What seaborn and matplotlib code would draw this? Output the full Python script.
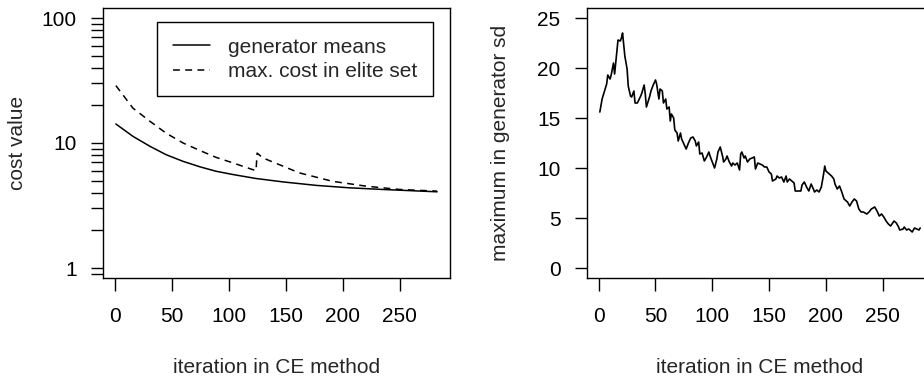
import numpy as np
import pandas as pd
import matplotlib
matplotlib.use("Agg")
import matplotlib.pyplot as plt
import seaborn as sns

# left panel: cost per iteration
mean_iter = [1, 16, 31, 45, 60, 75, 89, 104, 124, 148, 177, 206, 235, 283]
mean_cost = [14.2, 11.3, 9.4, 8.07, 7.13, 6.44, 5.94, 5.59, 5.2, 4.88, 4.58, 4.38, 4.25, 4.07]

elite_iter = [1, 16, 31, 45, 60, 75, 89, 104, 124, 125, 130, 162, 191, 221, 250, 283]
elite_cost = [28.8, 19.0, 14.9, 12.0, 10.0, 8.69, 7.67, 6.92, 6.0, 8.3, 7.6, 5.77, 4.94, 4.51, 4.25, 4.12]

# right panel: maximum generator sd
sd_iter = [1, 3, 7, 8, 10, 11, 13, 14, 16, 17, 19, 20, 21, 23, 25, 26, 28, 29, 31, 32,
           34, 37, 38, 40, 41, 42, 45, 46, 48, 50, 51, 53, 54, 56, 57, 59, 60, 62, 63, 64,
           66, 67, 69, 70, 72, 73, 75, 77, 79, 81, 83, 85, 86, 88, 89, 91, 93, 95, 97, 98,
           100, 102, 104, 105, 107, 109, 110, 112, 113, 115, 117, 118, 120, 122, 124, 125, 126, 128, 129, 131,
           133, 135, 137, 138, 140, 142, 144, 146, 148, 150, 152, 153, 156, 157, 159, 161, 163, 165, 166, 168,
           170, 172, 173, 176, 178, 179, 181, 183, 185, 187, 189, 190, 192, 194, 196, 198, 199, 200, 203, 205,
           207, 208, 210, 212, 214, 216, 219, 221, 223, 225, 227, 229, 231, 233, 236, 238, 240, 243, 245, 247,
           249, 251, 253, 255, 257, 260, 262, 264, 265, 268, 269, 271, 273, 276, 278, 280, 282, 283]
sd_max = [15.6, 16.9, 18.4, 19.3, 18.9, 19.3, 20.5, 19.4, 21.6, 22.8, 22.7, 23.0, 23.5, 21.2, 19.9, 18.2, 17.2, 17.1, 17.7, 16.5,
          16.5, 17.2, 17.5, 18.3, 17.4, 16.1, 17.2, 17.7, 18.3, 18.8, 18.4, 16.9, 17.9, 17.7, 16.5, 16.9, 15.9, 16.1, 14.7, 15.4,
          15.0, 13.8, 13.5, 12.7, 13.5, 12.9, 12.4, 11.9, 12.5, 13.0, 13.1, 12.7, 12.2, 12.6, 11.4, 11.5, 10.7, 11.1, 11.6, 11.2,
          10.6, 10.0, 10.9, 11.6, 12.1, 11.2, 10.6, 10.9, 11.2, 10.6, 10.2, 10.5, 10.3, 10.5, 9.8, 11.4, 11.6, 11.0, 11.2, 10.6,
          10.9, 11.0, 11.1, 9.9, 10.5, 10.4, 10.3, 10.1, 10.1, 9.6, 9.4, 8.7, 8.9, 9.2, 9.0, 9.1, 8.6, 9.2, 8.6, 8.9,
          8.7, 8.5, 7.7, 7.7, 7.7, 8.3, 8.6, 8.1, 7.7, 8.4, 7.9, 7.6, 7.8, 7.6, 8.1, 9.4, 10.2, 9.7, 9.4, 9.2,
          8.9, 8.4, 7.9, 8.2, 7.6, 6.9, 6.6, 6.2, 6.6, 6.9, 6.7, 5.9, 5.6, 5.6, 5.4, 5.6, 5.9, 6.1, 5.7, 5.2,
          5.4, 5.1, 4.7, 4.4, 4.2, 4.7, 4.5, 4.1, 3.8, 3.9, 4.1, 3.8, 3.9, 3.6, 4.0, 3.9, 3.8, 4.0]

x_ticks = [0, 50, 100, 150, 200, 250]
cost_ticks = [1, 10, 100]
cost_minor = [0.9, 2, 3, 4, 5, 6, 7, 8, 9, 20, 30, 40, 50, 60, 70, 80, 90]
sd_ticks = [0, 5, 10, 15, 20, 25]

sns.set_theme(style="ticks")
plt.rcParams["font.family"] = ["Liberation Sans", "DejaVu Sans"]
fs = 15

fig = plt.figure(figsize=(9.24, 3.78), dpi=100)
ax1 = fig.add_axes([103 / 924, 100 / 378, 347 / 924, 270 / 378])
ax2 = fig.add_axes([587 / 924, 100 / 378, 346 / 924, 270 / 378])

# left panel
sns.lineplot(x=mean_iter, y=mean_cost, ax=ax1, color="black", linewidth=1.1,
             label="generator means")
sns.lineplot(x=elite_iter, y=elite_cost, ax=ax1, color="black", linewidth=1.1,
             linestyle="--", label="max. cost in elite set")
ax1.lines[1].set_dashes([4.5, 3.5])
ax1.set_yscale("log")
ax1.set_xlim(-10.3, 294.3)
ax1.set_ylim(10 ** -0.08, 10 ** 2.08)
ax1.set_yticks(cost_ticks)
ax1.set_yticklabels([str(t) for t in cost_ticks])
ax1.set_yticks(cost_minor, minor=True)
ax1.yaxis.set_minor_formatter(matplotlib.ticker.NullFormatter())
ax1.set_ylabel("cost value", fontsize=fs, va="center")
ax1.yaxis.set_label_coords(-0.245, 0.5)

leg = ax1.legend(loc="upper right", bbox_to_anchor=(0.951, 0.948), frameon=True,
                 fancybox=False, edgecolor="black", framealpha=1, fontsize=fs,
                 handlelength=1.8, handletextpad=0.85, labelspacing=0.25,
                 borderpad=0.75, borderaxespad=0)
leg.get_frame().set_linewidth(1.0)

# right panel
sns.lineplot(x=sd_iter, y=sd_max, ax=ax2, color="black", linewidth=1.2)
ax2.set_xlim(-10.3, 294.3)
ax2.set_ylim(-1, 26)
ax2.set_yticks(sd_ticks)
ax2.set_ylabel("maximum in generator sd", fontsize=fs, va="center")
ax2.yaxis.set_label_coords(-0.251, 0.5)

for ax in (ax1, ax2):
    ax.set_xticks(x_ticks)
    ax.set_xlabel("iteration in CE method", fontsize=fs, va="center")
    ax.xaxis.set_label_coords(0.5, -0.33)
    ax.tick_params(axis="both", which="both", length=9, width=1, color="black",
                   labelsize=fs, labelcolor="black")
    ax.tick_params(axis="x", pad=12)
    ax.tick_params(axis="y", pad=10)
    for s in ax.spines.values():
        s.set_visible(True)
        s.set_color("black")
        s.set_linewidth(1)

fig.savefig("out.png", dpi=100)
